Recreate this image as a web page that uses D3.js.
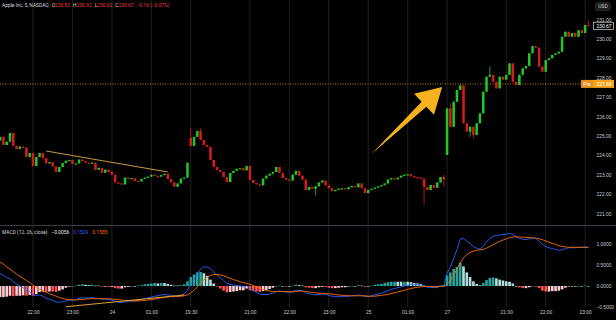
<!DOCTYPE html>
<html>
<head>
<meta charset="utf-8">
<script src="https://cdn.jsdelivr.net/npm/d3@7"></script>
<style>
html, body { margin: 0; padding: 0; background: #000; }
svg { display: block; font-family: Roboto, "Liberation Sans", sans-serif; }
</style>
</head>
<body>
<script>
// sessions (regular hours, 5 minute bars)
const sessionDays = [23, 24, 27]
const sessionStarts = ["21:10", "19:30", "19:30"]
const sessionCounts = [58, 78, 44]
const sessionOpens = [224.75, 224.89, 224.02]

// closes, one per bar
const closes = [
  // 23/24
  224.95, 224.53, 224.70, 225.15, 224.48, 224.32, 224.45, 224.40, 223.91, 224.12,
  223.45, 223.91, 224.12, 223.85, 223.58, 223.65, 223.42, 223.14, 223.40, 223.60,
  223.72, 223.76, 223.55, 223.58, 223.78, 223.70, 223.62, 223.58, 223.62, 223.25,
  223.35, 223.10, 223.26, 223.15, 223.00, 222.60, 222.55, 222.50, 222.85, 222.78,
  222.82, 222.68, 222.65, 222.78, 222.85, 222.90, 223.00, 222.93, 222.90, 222.98,
  223.05, 222.78, 222.60, 222.38, 222.55, 222.80, 222.85, 223.62,
  // 24/25
  224.48, 224.95, 225.25, 224.79, 224.53, 224.43, 223.76, 223.40, 223.24, 223.14,
  222.88, 222.62, 223.09, 223.20, 223.30, 223.33, 223.22, 223.45, 222.73, 222.57,
  222.50, 222.45, 222.80, 222.95, 223.05, 223.14, 223.40, 223.09, 222.83, 222.75,
  222.70, 223.00, 223.20, 222.95, 222.75, 222.21, 222.37, 222.28, 222.40, 222.60,
  222.70, 222.45, 222.30, 222.15, 222.22, 222.28, 222.30, 222.25, 222.35, 222.42,
  222.35, 222.55, 222.30, 222.05, 222.22, 222.28, 222.34, 222.40, 222.46, 222.55,
  222.75, 222.82, 222.76, 222.85, 222.95, 223.00, 223.02, 222.92, 222.88, 222.85,
  222.80, 222.37, 222.21, 222.47, 222.32, 222.60, 222.88, 222.75,
  // 27
  226.42, 225.47, 226.76, 227.37, 227.60, 225.65, 225.22, 225.47, 225.05, 225.65,
  226.16, 227.28, 228.05, 228.15, 227.79, 227.45, 228.05, 227.90, 228.15, 228.74,
  227.79, 227.62, 228.15, 228.48, 228.60, 229.26, 229.63, 229.55, 228.57, 228.31,
  228.91, 229.00, 229.17, 229.25, 229.34, 230.11, 230.37, 230.11, 230.30, 230.11,
  230.45, 230.30, 230.72, 230.67
]

// visible wicks [bar, price]
const wickHighs = [[58, 225.40], [61, 225.40], [135, 223.00], [137, 226.68], [140, 227.65], [149, 228.57], [179, 230.95]]
const wickLows = [[96, 221.92], [129, 221.44], [135, 222.40], [143, 224.95], [144, 224.88]]

const macdLine = [
  0.30, 0.25, 0.20, 0.17, 0.10, 0.05, 0.00, -0.04, -0.10, -0.13,
  -0.21, -0.22, -0.21, -0.24, -0.29, -0.31, -0.34, -0.38, -0.38, -0.37,
  -0.35, -0.33, -0.33, -0.32, -0.29, -0.28, -0.28, -0.28, -0.27, -0.29,
  -0.29, -0.31, -0.31, -0.32, -0.33, -0.36, -0.38, -0.39, -0.37, -0.36,
  -0.35, -0.35, -0.34, -0.32, -0.30, -0.28, -0.26, -0.24, -0.23, -0.21,
  -0.20, -0.21, -0.22, -0.24, -0.24, -0.22, -0.19, -0.10,
  0.05, 0.17, 0.30, 0.40, 0.45, 0.45, 0.40, 0.33, 0.26, 0.20,
  0.13, 0.06, 0.04, 0.02, 0.01, 0.00, -0.02, 0.00, -0.06, -0.11,
  -0.15, -0.19, -0.20, -0.20, -0.19, -0.17, -0.13, -0.12, -0.13, -0.14,
  -0.15, -0.13, -0.10, -0.10, -0.11, -0.16, -0.18, -0.20, -0.21, -0.20,
  -0.19, -0.20, -0.22, -0.24, -0.25, -0.25, -0.25, -0.25, -0.24, -0.23,
  -0.23, -0.21, -0.22, -0.25, -0.25, -0.23, -0.21, -0.19, -0.17, -0.14,
  -0.11, -0.08, -0.06, -0.04, -0.02, 0.00, 0.02, 0.03, 0.03, 0.03,
  0.03, 0.00, -0.03, -0.03, -0.04, -0.03, 0.00, 0.00,
  0.30, 0.45, 0.65, 0.85, 1.10, 1.12, 1.06, 1.00, 0.93, 0.89,
  0.87, 0.93, 1.03, 1.12, 1.17, 1.19, 1.20, 1.21, 1.22, 1.24,
  1.21, 1.16, 1.12, 1.10, 1.09, 1.11, 1.13, 1.12, 1.06, 0.98,
  0.93, 0.90, 0.88, 0.86, 0.84, 0.85, 0.88, 0.90, 0.90, 0.90,
  0.91, 0.91, 0.92, 0.91
]
const signalLine = [
  0.56, 0.51, 0.45, 0.40, 0.34, 0.28, 0.23, 0.18, 0.13, 0.08,
  0.02, -0.03, -0.07, -0.11, -0.15, -0.18, -0.21, -0.24, -0.27, -0.29,
  -0.31, -0.32, -0.33, -0.33, -0.32, -0.32, -0.31, -0.30, -0.30, -0.30,
  -0.30, -0.30, -0.30, -0.30, -0.31, -0.31, -0.32, -0.33, -0.34, -0.34,
  -0.35, -0.35, -0.35, -0.34, -0.34, -0.33, -0.32, -0.31, -0.29, -0.28,
  -0.27, -0.26, -0.25, -0.25, -0.25, -0.24, -0.23, -0.21,
  -0.16, -0.10, -0.02, 0.07, 0.15, 0.21, 0.25, 0.27, 0.27, 0.26,
  0.24, 0.21, 0.18, 0.15, 0.13, 0.10, 0.08, 0.06, 0.04, 0.01,
  -0.02, -0.05, -0.08, -0.10, -0.12, -0.13, -0.13, -0.13, -0.13, -0.13,
  -0.14, -0.14, -0.13, -0.12, -0.12, -0.13, -0.14, -0.15, -0.16, -0.17,
  -0.17, -0.18, -0.18, -0.19, -0.20, -0.21, -0.22, -0.22, -0.23, -0.23,
  -0.23, -0.23, -0.23, -0.23, -0.24, -0.24, -0.24, -0.23, -0.22, -0.21,
  -0.20, -0.18, -0.16, -0.14, -0.12, -0.10, -0.08, -0.06, -0.04, -0.03,
  -0.02, -0.01, -0.01, -0.01, -0.02, -0.02, -0.01, -0.01,
  0.05, 0.13, 0.25, 0.40, 0.55, 0.66, 0.74, 0.79, 0.82, 0.84,
  0.85, 0.86, 0.89, 0.93, 0.97, 1.01, 1.05, 1.08, 1.11, 1.14,
  1.15, 1.16, 1.15, 1.15, 1.14, 1.14, 1.13, 1.13, 1.11, 1.09,
  1.06, 1.03, 1.00, 0.98, 0.95, 0.93, 0.92, 0.91, 0.91, 0.91,
  0.91, 0.91, 0.91, 0.91
]

const tickKeys = ["23 22:00", "23 23:00", "24 00:00", "24 01:00", "24 19:30", "24 21:00", "24 22:00",
  "24 23:00", "25 00:00", "25 01:00", "27 19:30", "27 21:00", "27 22:00", "27 23:00"]
const tickTexts = ["22:00", "23:00", "24", "01:00", "19:30", "21:00", "22:00",
  "23:00", "25", "01:00", "27", "21:00", "22:00", "23:00"]
const priceTicks = [221, 222, 223, 224, 225, 226, 227, 228, 229, 230, 231]
const macdTicks = [1, 0.5, 0, -0.5]

const prePrice = 227.68
const lastPrice = 230.67
// drawings, in bar / value coordinates
const priceTrend = [[14, 224.22], [51, 223.14]]
const macdTrend = [[20, -0.49], [56, -0.21]]
const arrowFrom = [113, 224.07]
const arrowTo = [134.5, 227.52]

let width = 616
let height = 320
let green = "#22c822"
let red = "#d41c1c"
let fontSize = 4.9

// one time key per bar
let times = []
let sessionFirst = []
sessionDays.forEach((day, s) => {
    sessionFirst.push(times.length)
    let [h, m] = sessionStarts[s].split(":").map(Number)
    for (let k = 0; k < sessionCounts[s]; k++) {
        let t = h * 60 + m + 5 * k
        let d = day + (t >= 1440 ? 1 : 0)
        t = t % 1440
        times.push(d + " " + String(Math.floor(t / 60)).padStart(2, "0") + ":" + String(t % 60).padStart(2, "0"))
    }
})

let highMap = new Map(wickHighs)
let lowMap = new Map(wickLows)
let candles = closes.map((c, i) => {
    let s = sessionFirst.indexOf(i)
    let o = s >= 0 ? sessionOpens[s] : closes[i - 1]
    return {
        i: i, o: o, c: c,
        h: highMap.has(i) ? highMap.get(i) : Math.max(o, c),
        l: lowMap.has(i) ? lowMap.get(i) : Math.min(o, c)
    }
})
let hist = macdLine.map((m, i) => m - signalLine[i])

let x = d3.scaleLinear().domain([0, times.length - 1]).range([0.14, 588.4])
let yP = d3.scaleLinear().domain([221, 231]).range([213.5, 19.5])
let yM = d3.scaleLinear().domain([-0.5, 1]).range([307.25, 243.5])

let svg = d3.select("body").append("svg")
    .attr("width", width)
    .attr("height", height)
    .style("background", "#000")

let defs = svg.append("defs")
defs.append("clipPath").attr("id", "clipP").append("rect")
    .attr("x", 0).attr("y", 0).attr("width", 592).attr("height", 225)
defs.append("clipPath").attr("id", "clipM").append("rect")
    .attr("x", 0).attr("y", 226).attr("width", 592).attr("height", 82)

// vertical grid
let tickIdx = tickKeys.map(k => times.indexOf(k))
svg.append("g").selectAll("line").data(tickIdx).enter().append("line")
    .attr("x1", d => x(d)).attr("x2", d => x(d))
    .attr("y1", 0).attr("y2", 307)
    .attr("stroke", "#242424").attr("stroke-width", 0.9)

// pane separator
svg.append("line")
    .attr("x1", 0).attr("x2", width).attr("y1", 225.5).attr("y2", 225.5)
    .attr("stroke", "#3a3d45").attr("stroke-width", 1)

// price pane
let pane = svg.append("g").attr("clip-path", "url(#clipP)")

pane.append("line")
    .attr("x1", 0).attr("x2", 581).attr("y1", yP(prePrice)).attr("y2", yP(prePrice))
    .attr("stroke", "#f7a21b").attr("stroke-width", 0.8).attr("stroke-dasharray", "1,1.5")

let bw = 2.5
pane.selectAll(".wick").data(candles).enter().append("line")
    .attr("class", "wick")
    .attr("x1", d => x(d.i)).attr("x2", d => x(d.i))
    .attr("y1", d => yP(d.h)).attr("y2", d => yP(d.l))
    .attr("stroke", d => d.c >= d.o ? green : red).attr("stroke-width", 0.8)

pane.selectAll(".body").data(candles).enter().append("rect")
    .attr("class", "body")
    .attr("x", d => x(d.i) - bw / 2)
    .attr("width", bw)
    .attr("y", d => yP(Math.max(d.o, d.c)))
    .attr("height", d => Math.max(1.2, Math.abs(yP(d.o) - yP(d.c))))
    .attr("fill", d => d.c >= d.o ? green : red)

pane.append("line")
    .attr("x1", x(priceTrend[0][0])).attr("y1", yP(priceTrend[0][1]))
    .attr("x2", x(priceTrend[1][0])).attr("y2", yP(priceTrend[1][1]))
    .attr("stroke", "#c99a45").attr("stroke-width", 1)

// arrow drawing
let ax0 = x(arrowFrom[0]), ay0 = yP(arrowFrom[1])
let ax1 = x(arrowTo[0]), ay1 = yP(arrowTo[1])
let len = Math.hypot(ax1 - ax0, ay1 - ay0)
let ux = (ax1 - ax0) / len, uy = (ay1 - ay0) / len
let nx = -uy, ny = ux
let headLen = 25, headHalf = 14.5, shaftHalf = 3.4
let bx = ax1 - ux * headLen, by = ay1 - uy * headLen
let arrowPts = [
    [ax0, ay0],
    [bx + nx * shaftHalf, by + ny * shaftHalf],
    [bx + nx * headHalf, by + ny * headHalf],
    [ax1, ay1],
    [bx - nx * headHalf, by - ny * headHalf],
    [bx - nx * shaftHalf, by - ny * shaftHalf]
]
pane.append("polygon")
    .attr("points", arrowPts.map(p => p.join(",")).join(" "))
    .attr("fill", "#f6b31d")

// MACD pane
let mpane = svg.append("g").attr("clip-path", "url(#clipM)")
let hb = 2.6
mpane.selectAll(".hist").data(hist).enter().append("rect")
    .attr("class", "hist")
    .attr("x", (d, i) => x(i) - hb / 2)
    .attr("width", hb)
    .attr("y", d => d >= 0 ? yM(d) : yM(0))
    .attr("height", d => Math.max(0.6, Math.abs(yM(d) - yM(0))))
    .attr("fill", (d, i) => {
        let prev = i > 0 ? hist[i - 1] : d
        if (d >= 0) return d > prev ? "#26a69a" : "#b2dfdb"
        return d < prev ? "#ff5252" : "#ffcdd2"
    })

let line = d3.line().x((d, i) => x(i)).y(d => yM(d))
mpane.append("path").datum(macdLine)
    .attr("d", line).attr("fill", "none")
    .attr("stroke", "#2962ff").attr("stroke-width", 0.9)
mpane.append("path").datum(signalLine)
    .attr("d", line).attr("fill", "none")
    .attr("stroke", "#ff6d00").attr("stroke-width", 0.9)

mpane.append("line")
    .attr("x1", x(macdTrend[0][0])).attr("y1", yM(macdTrend[0][1]))
    .attr("x2", x(macdTrend[1][0])).attr("y2", yM(macdTrend[1][1]))
    .attr("stroke", "#e0a030").attr("stroke-width", 1.1)

// axes
let styleAxis = g => {
    g.select(".domain").remove()
    g.selectAll("text").attr("fill", "#c9cbd1").style("font-size", fontSize + "px")
}
svg.append("g")
    .attr("transform", "translate(596,0)")
    .call(d3.axisRight(yP).tickValues(priceTicks).tickFormat(d3.format(".2f")).tickSize(0).tickPadding(0.5))
    .call(styleAxis)
svg.append("g")
    .attr("transform", "translate(596,0)")
    .call(d3.axisRight(yM).tickValues(macdTicks).tickFormat(d3.format(".4f")).tickSize(0).tickPadding(0.5))
    .call(styleAxis)
svg.append("g")
    .attr("transform", "translate(0,311)")
    .call(d3.axisBottom(x).tickValues(tickIdx).tickFormat((d, k) => tickTexts[k]).tickSize(0).tickPadding(0))
    .call(styleAxis)

// price labels on the axis
svg.append("rect").attr("x", 581).attr("y", yP(prePrice) - 4).attr("width", 12).attr("height", 8)
    .attr("fill", "#e8911a")
svg.append("rect").attr("x", 593).attr("y", yP(prePrice) - 4).attr("width", 21).attr("height", 8)
    .attr("fill", "#f7a21b")
svg.append("text").attr("x", 587).attr("y", yP(prePrice) + 1.7).attr("text-anchor", "middle")
    .attr("fill", "#fff").style("font-size", fontSize + "px").text("Pre")
svg.append("text").attr("x", 596.5).attr("y", yP(prePrice) + 1.7)
    .attr("fill", "#fff").style("font-size", fontSize + "px").text(d3.format(".2f")(prePrice))

svg.append("rect").attr("x", 593.5).attr("y", yP(lastPrice) - 3.7).attr("width", 20).attr("height", 7.4)
    .attr("fill", "#000").attr("stroke", "#d8d8d8").attr("stroke-width", 0.7)
svg.append("text").attr("x", 596.5).attr("y", yP(lastPrice) + 1.7)
    .attr("fill", "#fff").style("font-size", fontSize + "px").text(d3.format(".2f")(lastPrice))

svg.append("rect").attr("x", 595.5).attr("y", 2.5).attr("width", 15).attr("height", 8).attr("rx", 1.5)
    .attr("fill", "#1e1e1e").attr("stroke", "#333").attr("stroke-width", 0.5)
svg.append("text").attr("x", 603).attr("y", 8.2).attr("text-anchor", "middle")
    .attr("fill", "#c9cbd1").style("font-size", fontSize + "px").text("USD")

// legends
let head = svg.append("text").attr("x", 2).attr("y", 7.2).style("font-size", fontSize + "px").attr("fill", "#d1d4dc")
head.append("tspan").text("Apple Inc, 5, NASDAQ")
let ohlc = [["O", "230.83"], ["H", "230.92"], ["L", "230.62"], ["C", "230.67"]]
ohlc.forEach(d => {
    head.append("tspan").attr("dx", 3).attr("fill", "#d1d4dc").text(d[0])
    head.append("tspan").attr("fill", "#f23645").text(d[1])
})
head.append("tspan").attr("dx", 3).attr("fill", "#f23645").text("−0.16 (−0.07%)")

let mleg = svg.append("text").attr("x", 2).attr("y", 234).style("font-size", fontSize + "px").attr("fill", "#d1d4dc")
mleg.append("tspan").text("MACD (12, 26, close)")
mleg.append("tspan").attr("dx", 4).attr("fill", "#e8e8e8").text("−0.0056")
mleg.append("tspan").attr("dx", 4).attr("fill", "#2962ff").text("0.1529")
mleg.append("tspan").attr("dx", 4).attr("fill", "#ff6d00").text("0.1585")
</script>
</body>
</html>
